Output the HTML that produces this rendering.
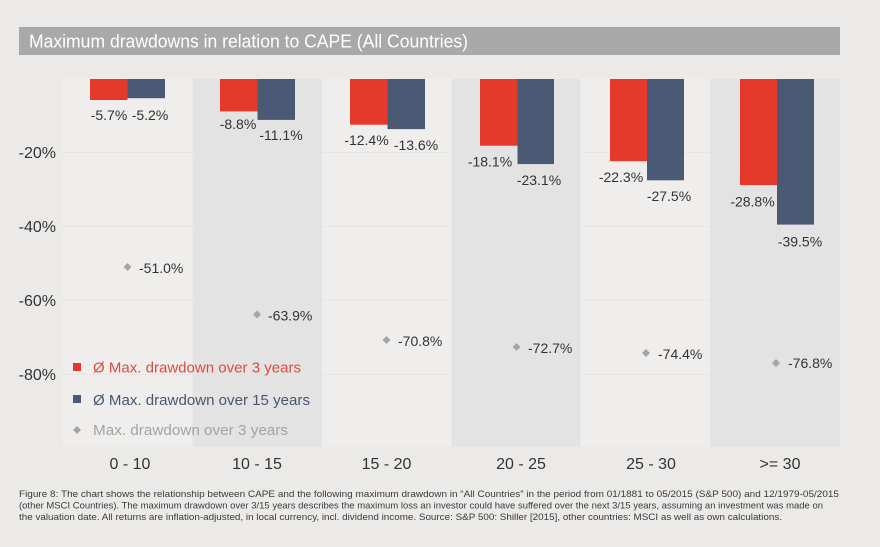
<!DOCTYPE html>
<html>
<head>
<meta charset="utf-8">
<style>
  html,body{margin:0;padding:0;background:#ebeae8;}
  svg{display:block;}
  text{font-family:"Liberation Sans", sans-serif;}
</style>
</head>
<body>
<svg width="880" height="547" viewBox="0 0 880 547" xmlns="http://www.w3.org/2000/svg">
  <rect x="0" y="0" width="880" height="547" fill="#ebeae8"/>
  <!-- title bar -->
  <rect x="19" y="27" width="821" height="28" fill="#a9a9a9"/>
  <text x="29" y="47.5" font-size="18" fill="#ffffff" textLength="439" lengthAdjust="spacingAndGlyphs">Maximum drawdowns in relation to CAPE (All Countries)</text>

  <!-- column backgrounds -->
  <rect x="63" y="79" width="129.5" height="368" fill="#efeeed"/>
  <rect x="192.5" y="79" width="129.5" height="368" fill="#e4e3e3"/>
  <rect x="322" y="79" width="129.5" height="368" fill="#efeeed"/>
  <rect x="451.5" y="79" width="129" height="368" fill="#e4e3e3"/>
  <rect x="580.5" y="79" width="129.5" height="368" fill="#efeeed"/>
  <rect x="710" y="79" width="130" height="368" fill="#e4e3e3"/>

  <!-- faint gridlines in light columns -->
  <g stroke="#e7e6e5" stroke-width="1">
    <line x1="63" y1="152.5" x2="192.5" y2="152.5"/>
    <line x1="63" y1="226.5" x2="192.5" y2="226.5"/>
    <line x1="63" y1="300.5" x2="192.5" y2="300.5"/>
    <line x1="63" y1="374.5" x2="192.5" y2="374.5"/>
    <line x1="322" y1="152.5" x2="451.5" y2="152.5"/>
    <line x1="322" y1="226.5" x2="451.5" y2="226.5"/>
    <line x1="322" y1="300.5" x2="451.5" y2="300.5"/>
    <line x1="322" y1="374.5" x2="451.5" y2="374.5"/>
    <line x1="580.5" y1="152.5" x2="710" y2="152.5"/>
    <line x1="580.5" y1="226.5" x2="710" y2="226.5"/>
    <line x1="580.5" y1="300.5" x2="710" y2="300.5"/>
    <line x1="580.5" y1="374.5" x2="710" y2="374.5"/>
  </g>

  <!-- y tick labels -->
  <g font-size="16" fill="#333333" text-anchor="end">
    <text x="56" y="158">-20%</text>
    <text x="56" y="232">-40%</text>
    <text x="56" y="306">-60%</text>
    <text x="56" y="380">-80%</text>
  </g>

  <!-- bars -->
  <g fill="#e4392b">
    <rect x="90" y="79" width="37.5" height="21"/>
    <rect x="220" y="79" width="37.5" height="32.4"/>
    <rect x="350" y="79" width="37.5" height="45.7"/>
    <rect x="480" y="79" width="37.5" height="66.7"/>
    <rect x="610" y="79" width="37" height="82.2"/>
    <rect x="740" y="79" width="37" height="106.1"/>
  </g>
  <g fill="#4b5a74">
    <rect x="127.5" y="79" width="37.5" height="19.2"/>
    <rect x="257.5" y="79" width="37.5" height="40.9"/>
    <rect x="387.5" y="79" width="37.5" height="50.1"/>
    <rect x="517.5" y="79" width="36.5" height="85.1"/>
    <rect x="647" y="79" width="37" height="101.3"/>
    <rect x="777" y="79" width="37" height="145.6"/>
  </g>

  <!-- bar labels -->
  <g font-size="14" fill="#333333" text-anchor="middle">
    <text x="109" y="120">-5.7%</text>
    <text x="150" y="120">-5.2%</text>
    <text x="238" y="129">-8.8%</text>
    <text x="281" y="140">-11.1%</text>
    <text x="366.5" y="145">-12.4%</text>
    <text x="416" y="150">-13.6%</text>
    <text x="490" y="166.5">-18.1%</text>
    <text x="539" y="185">-23.1%</text>
    <text x="621" y="182">-22.3%</text>
    <text x="669" y="201">-27.5%</text>
    <text x="752.5" y="206.5">-28.8%</text>
    <text x="800" y="246.5">-39.5%</text>
  </g>

  <!-- diamonds -->
  <g fill="#a5a5a5">
    <polygon points="127.5,263 131.5,267 127.5,271 123.5,267"/>
    <polygon points="257,310.5 261,314.5 257,318.5 253,314.5"/>
    <polygon points="386.5,336 390.5,340 386.5,344 382.5,340"/>
    <polygon points="516.5,343 520.5,347 516.5,351 512.5,347"/>
    <polygon points="646,349 650,353 646,357 642,353"/>
    <polygon points="776,359 780,363 776,367 772,363"/>
  </g>
  <g font-size="14" fill="#333333">
    <text x="139" y="273">-51.0%</text>
    <text x="268" y="320.5">-63.9%</text>
    <text x="398" y="346">-70.8%</text>
    <text x="528" y="353">-72.7%</text>
    <text x="658" y="359">-74.4%</text>
    <text x="788" y="368">-76.8%</text>
  </g>

  <!-- legend -->
  <rect x="73" y="363" width="8" height="8" fill="#e4392b"/>
  <text x="93" y="372.5" font-size="14.5" fill="#df4a3e" textLength="208" lengthAdjust="spacingAndGlyphs">Ø Max. drawdown over 3 years</text>
  <rect x="73" y="395" width="8" height="8" fill="#4b5a74"/>
  <text x="93" y="405" font-size="14.5" fill="#4a5570" textLength="217" lengthAdjust="spacingAndGlyphs">Ø Max. drawdown over 15 years</text>
  <polygon points="77,426 81,430 77,434 73,430" fill="#a5a5a5"/>
  <text x="93" y="435" font-size="14.5" fill="#a3a3a3" textLength="195" lengthAdjust="spacingAndGlyphs">Max. drawdown over 3 years</text>

  <!-- x labels -->
  <g font-size="16" fill="#333333" text-anchor="middle">
    <text x="130" y="469">0 - 10</text>
    <text x="257" y="469">10 - 15</text>
    <text x="386.5" y="469">15 - 20</text>
    <text x="521" y="469">20 - 25</text>
    <text x="651" y="469">25 - 30</text>
    <text x="780" y="469">&gt;= 30</text>
  </g>

  <!-- footnote -->
  <g font-size="9.5" fill="#3a3a3a">
    <text x="19" y="497" textLength="820" lengthAdjust="spacingAndGlyphs">Figure 8: The chart shows the relationship between CAPE and the following maximum drawdown in “All Countries” in the period from 01/1881 to 05/2015 (S&amp;P 500) and 12/1979-05/2015</text>
    <text x="19" y="508.5" textLength="804" lengthAdjust="spacingAndGlyphs">(other MSCI Countries). The maximum drawdown over 3/15 years describes the maximum loss an investor could have suffered over the next 3/15 years, assuming an investment was made on</text>
    <text x="19" y="520" textLength="763" lengthAdjust="spacingAndGlyphs">the valuation date. All returns are inflation-adjusted, in local currency, incl. dividend income. Source: S&amp;P 500: Shiller [2015], other countries: MSCI as well as own calculations.</text>
  </g>
</svg>
</body>
</html>
